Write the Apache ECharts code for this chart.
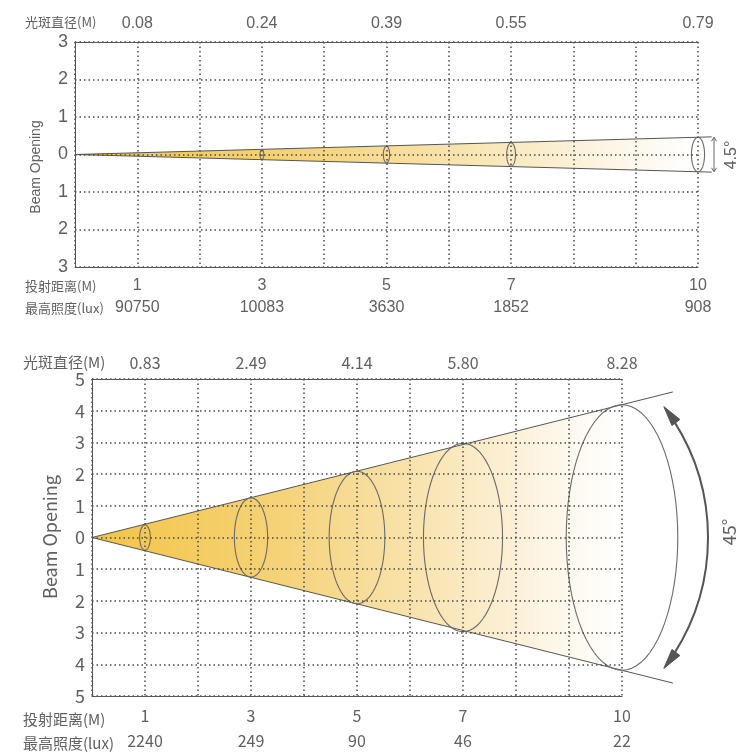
<!DOCTYPE html>
<html>
<head>
<meta charset="utf-8">
<script src="https://cdn.jsdelivr.net/npm/echarts@6/dist/echarts.min.js"></script>
<style>
html,body{margin:0;padding:0;background:#fff;}
#main{width:746px;height:753px;}
</style>
</head>
<body>
<div id="main"></div>
<script>
// ---- data ----
const distances = [1, 3, 5, 7, 10];                       // 投射距离(M)
const topDiameters = ['0.08', '0.24', '0.39', '0.55', '0.79']; // 光斑直径(M), 4.5°
const topLux = ['90750', '10083', '3630', '1852', '908'];      // 最高照度(lux), 4.5°
const topEllipseX = [3, 5, 7, 10];
const topEllipseHalf = [0.13, 0.22, 0.31, 0.46];
const botDiameters = ['0.83', '2.49', '4.14', '5.80', '8.28']; // 光斑直径(M), 45°
const botLux = ['2240', '249', '90', '46', '22'];              // 最高照度(lux), 45°
const botEllipseX = [1, 3, 5, 7, 10];
const botEllipseHalf = [0.4, 1.25, 2.09, 2.97, 4.19];
const topYTicks = [-3, -2, -1, 0, 1, 2, 3];
const botYTicks = [-5, -4, -3, -2, -1, 0, 1, 2, 3, 4, 5];

const TXT = '#606060';
const FONT_A = '"Liberation Sans", Arial, "Noto Sans CJK SC", sans-serif';
const FONT_B = '"Noto Sans CJK SC", "Noto Sans", sans-serif';
const dotted = {color: '#4a4a4a', type: [1.5, 3], width: 1.5};

function lbl(arr) {
  return function (v) {
    const i = distances.indexOf(v);
    return i >= 0 ? arr[i] : '';
  };
}
function lbl2(a, b) {
  return function (v) {
    const i = distances.indexOf(v);
    return i >= 0 ? a[i] + '\n' + b[i] : '';
  };
}

function gradient() {
  return new echarts.graphic.LinearGradient(0, 0, 1, 0, [
    {offset: 0, color: '#F2C446'},
    {offset: 0.35, color: '#F5D277'},
    {offset: 0.65, color: '#F9E6B6'},
    {offset: 0.88, color: '#FDF7EA'},
    {offset: 1, color: '#FFFFFF'}
  ]);
}

function ellipseRender(ratio) {
  return function (params, api) {
    const x = api.value(0), h = api.value(1);
    const c = api.coord([x, 0]);
    const t = api.coord([x, h]);
    const ry = c[1] - t[1];
    const rx = ry * ratio;
    const pts = [];
    for (let i = 0; i < 72; i++) {
      const a = i / 72 * Math.PI * 2;
      pts.push([c[0] + rx * Math.cos(a), c[1] + ry * Math.sin(a)]);
    }
    return {type: 'polygon', shape: {points: pts},
      style: {fill: 'none', stroke: '#6a6a6a', lineWidth: 1.1}};
  };
}

function coneRender(extend, annot) {
  return function (params, api) {
    const x = api.value(0), h = api.value(1);
    const o = api.coord([0, 0]);
    const t = api.coord([x, h]);
    const b = api.coord([x, -h]);
    const te = api.coord([x * extend, h * extend]);
    const be = api.coord([x * extend, -h * extend]);
    const children = [
      {type: 'polygon', shape: {points: [o, t, b]}, style: {fill: gradient(), stroke: 'none'}},
      {type: 'line', shape: {x1: o[0], y1: o[1], x2: te[0], y2: te[1]}, style: {stroke: '#555', lineWidth: 1}},
      {type: 'line', shape: {x1: o[0], y1: o[1], x2: be[0], y2: be[1]}, style: {stroke: '#555', lineWidth: 1}}
    ].concat(annot(t, b));
    return {type: 'group', children: children};
  };
}

function topAnnot(t, b) {
  const x = t[0] + 16;
  return [
    {type: 'line', shape: {x1: x, y1: t[1], x2: x, y2: b[1]}, style: {stroke: '#666', lineWidth: 1}},
    {type: 'polyline', shape: {points: [[x - 2.5, t[1] + 4], [x, t[1]], [x + 2.5, t[1] + 4]]}, style: {stroke: '#666', fill: 'none', lineWidth: 1}},
    {type: 'polyline', shape: {points: [[x - 2.5, b[1] - 4], [x, b[1]], [x + 2.5, b[1] - 4]]}, style: {stroke: '#666', fill: 'none', lineWidth: 1}}
  ];
}

function botAnnot(t, b) {
  const R = 216, cx = t[0] - 130, cy = (t[1] + b[1]) / 2;
  const a0 = 0.651, L = 20, W = 10;
  function head(theta, sgn) {
    const tip = [cx + R * Math.cos(theta), cy + R * Math.sin(theta)];
    const d = sgn < 0 ? [Math.sin(theta), -Math.cos(theta)] : [-Math.sin(theta), Math.cos(theta)];
    const base = [tip[0] - L * d[0], tip[1] - L * d[1]];
    const n = [-d[1], d[0]];
    return {type: 'polygon', shape: {points: [tip,
      [base[0] + n[0] * W / 2, base[1] + n[1] * W / 2],
      [base[0] - n[0] * W / 2, base[1] - n[1] * W / 2]]},
      style: {fill: '#555', stroke: '#555', lineWidth: 1}};
  }
  return [
    {type: 'arc', shape: {cx: cx, cy: cy, r: R, startAngle: -a0 + L / R * 0.9, endAngle: a0 - L / R * 0.9, clockwise: true},
      style: {fill: 'none', stroke: '#555', lineWidth: 2}},
    head(-a0, -1),
    head(a0, 1)
  ];
}

function xBottom(grid, font, fs, lh, margin, lux) {
  return {type: 'value', gridIndex: grid, position: 'bottom', min: 0, max: 10, interval: 1, z: 5,
    axisLine: {show: true, onZero: false, lineStyle: {color: '#555', width: 1}},
    axisTick: {show: false},
    splitLine: {show: true, lineStyle: dotted},
    axisLabel: {margin: margin, fontSize: fs, lineHeight: lh, fontFamily: font, color: TXT,
      formatter: lbl2(distances.map(String), lux)}};
}
function xTop(grid, font, fs, margin, diam) {
  return {type: 'value', gridIndex: grid, position: 'top', min: 0, max: 10, interval: 1, z: 5,
    axisLine: {show: true, onZero: false, lineStyle: {color: '#555', width: 1}},
    axisTick: {show: false}, splitLine: {show: false},
    axisLabel: {margin: margin, fontSize: fs, fontFamily: font, color: TXT, formatter: lbl(diam)}};
}
function yAx(grid, ticks, font, fs, margin) {
  return {type: 'value', gridIndex: grid, min: ticks[0], max: ticks[ticks.length - 1], interval: 1, z: 5,
    axisLine: {show: true, onZero: false, lineStyle: {color: '#555', width: 1}},
    axisTick: {show: false},
    splitLine: {show: true, lineStyle: dotted},
    axisLabel: {margin: margin, fontSize: fs, fontFamily: font, color: TXT,
      formatter: function (v) { return String(Math.abs(v)); }}};
}

function txt(x, y, text, font, fs, rot, align) {
  return {type: 'text', x: x, y: y, rotation: rot || 0,
    style: {text: text, font: fs + 'px ' + font, fill: TXT, align: align || 'left', verticalAlign: 'middle'}};
}

const chart = echarts.init(document.getElementById('main'), null, {renderer: 'canvas'});
chart.setOption({
  animation: false,
  backgroundColor: '#fff',
  grid: [
    {left: 75, top: 42, width: 623, height: 225},
    {left: 92, top: 379, width: 530, height: 320}
  ],
  xAxis: [
    xBottom(0, FONT_A, 16, 22, 8, topLux),
    xTop(0, FONT_A, 16, 10, topDiameters),
    xBottom(1, FONT_B, 16, 25, 7, botLux),
    xTop(1, FONT_B, 16, 8, botDiameters)
  ],
  yAxis: [
    yAx(0, topYTicks, FONT_A, 18, 7),
    yAx(1, botYTicks, FONT_B, 18, 7)
  ],
  series: [
    {type: 'custom', xAxisIndex: 0, yAxisIndex: 0, clip: false, z: 1,
      renderItem: coneRender(1.022, topAnnot),
      data: [[topEllipseX[topEllipseX.length - 1], topEllipseHalf[topEllipseHalf.length - 1]]]},
    {type: 'custom', xAxisIndex: 0, yAxisIndex: 0, clip: false, z: 2,
      renderItem: ellipseRender(0.38),
      data: topEllipseX.map(function (x, i) { return [x, topEllipseHalf[i]]; })},
    {type: 'custom', xAxisIndex: 2, yAxisIndex: 1, clip: false, z: 1,
      renderItem: coneRender(1.096, botAnnot),
      data: [[botEllipseX[botEllipseX.length - 1], botEllipseHalf[botEllipseHalf.length - 1]]]},
    {type: 'custom', xAxisIndex: 2, yAxisIndex: 1, clip: false, z: 2,
      renderItem: ellipseRender(0.42),
      data: botEllipseX.map(function (x, i) { return [x, botEllipseHalf[i]]; })}
  ],
  graphic: [
    txt(25, 22, '光斑直径(M)', FONT_B, 13),
    txt(25, 286, '投射距离(M)', FONT_B, 13),
    txt(25, 308, '最高照度(lux)', FONT_B, 13),
    txt(36, 167, 'Beam Opening', FONT_A, 14, Math.PI / 2, 'center'),
    txt(732, 155, '4.5°', FONT_A, 16, Math.PI / 2, 'center'),
    txt(23, 362, '光斑直径(M)', FONT_B, 15),
    txt(23, 719, '投射距离(M)', FONT_B, 15),
    txt(23, 743, '最高照度(lux)', FONT_B, 15),
    txt(50, 537, 'Beam Opening', FONT_B, 18, Math.PI / 2, 'center'),
    txt(729, 532, '45°', FONT_B, 18, Math.PI / 2, 'center')
  ]
});
</script>
</body>
</html>
